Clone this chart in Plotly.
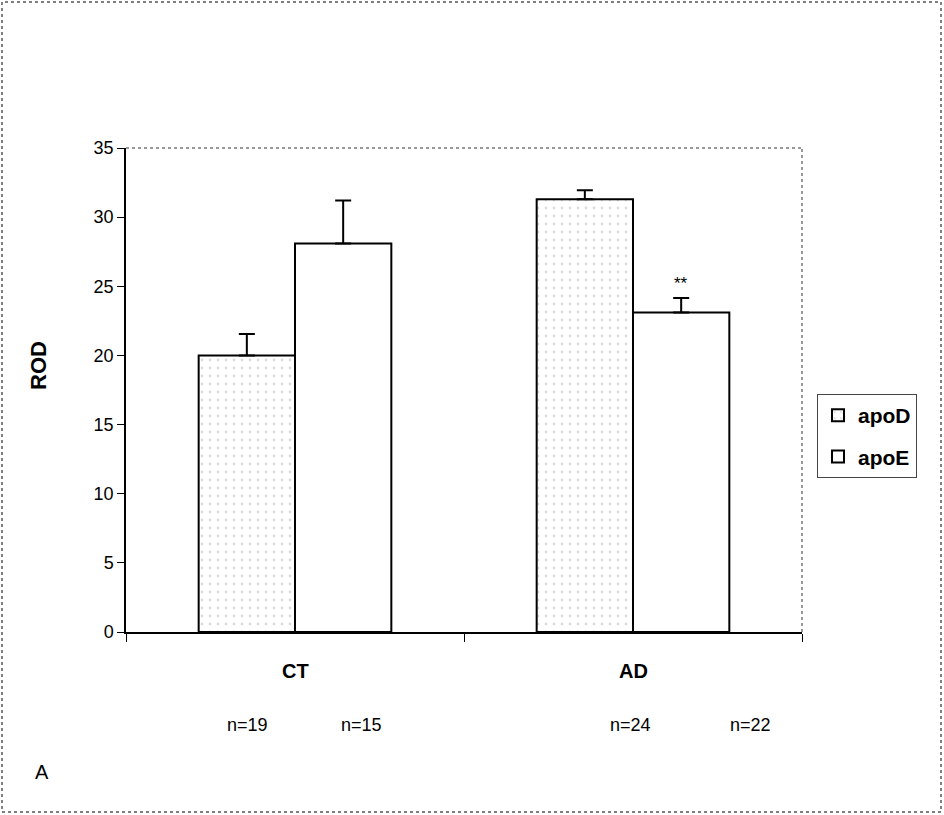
import plotly.graph_objects as go

categories = ["CT", "AD"]
apoD_values = [20.0, 31.3]
apoD_errors = [1.55, 0.65]
apoE_values = [28.1, 23.1]
apoE_errors = [3.1, 1.05]
n_labels = ["n=19", "n=15", "n=24", "n=22"]
y_ticks = [0, 5, 10, 15, 20, 25, 30, 35]

FONT = "Liberation Sans, Arial, sans-serif"
L, R, T, B = 126, 142, 148, 183
W, H = 944, 815
PW, PH = W - L - R, H - T - B

def px(x):
    return (x - L) / PW

def py(y):
    return (H - B - y) / PH

fig = go.Figure()
fig.add_trace(go.Bar(
    name="apoD", x=categories, y=apoD_values, legendgroup="d",
    marker=dict(color="white", line=dict(color="black", width=2),
                pattern=dict(shape=".", fgcolor="#b8b8b8", bgcolor="white", size=8, solidity=0.1)),
    error_y=dict(type="data", symmetric=False, array=apoD_errors, arrayminus=[0, 0],
                 color="black", thickness=2, width=8),
))
fig.add_trace(go.Bar(
    name="apoE", x=categories, y=apoE_values, legendgroup="e",
    marker=dict(color="white", line=dict(color="black", width=2)),
    error_y=dict(type="data", symmetric=False, array=apoE_errors, arrayminus=[0, 0],
                 color="black", thickness=2, width=8),
))

def label(x, y, text, size, **kw):
    d = dict(x=px(x), y=py(y), xref="paper", yref="paper", text=text, showarrow=False,
             xanchor="center", yanchor="middle", font=dict(family=FONT, size=size, color="black"))
    d.update(kw)
    return d

annotations = [
    dict(x="AD", y=apoE_values[1] + apoE_errors[1], xref="x", yref="y", xshift=48, yshift=3,
         xanchor="center", yanchor="bottom", text="**", showarrow=False,
         font=dict(family=FONT, size=17, color="black")),
    label(295, 671, "<b>CT</b>", 20),
    label(633, 671, "<b>AD</b>", 20),
    label(42, 772, "A", 20),
    label(38, 366, "<b>ROD</b>", 22, textangle=-90),
]
for lbl, xc in zip(n_labels, [247, 361, 630, 750]):
    annotations.append(label(xc, 725, lbl, 18))

shapes = [
    dict(type="rect", xref="paper", yref="paper", x0=px(2), x1=px(941), y0=py(812), y1=py(2),
         line=dict(color="#555555", width=1.5, dash="dot"), layer="below"),
    dict(type="line", xref="paper", yref="paper", x0=0, x1=1, y0=1, y1=1,
         line=dict(color="#777777", width=1.5, dash="dot")),
    dict(type="line", xref="paper", yref="paper", x0=1, x1=1, y0=0, y1=1,
         line=dict(color="#777777", width=1.5, dash="dot")),
]

fig.update_layout(
    width=W, height=H,
    margin=dict(l=L, r=R, t=T, b=B, pad=0),
    paper_bgcolor="white", plot_bgcolor="white",
    barmode="group", bargap=0.43, bargroupgap=0,
    font=dict(family=FONT, size=18, color="black"),
    showlegend=True,
    legend=dict(x=px(817), y=py(436), xanchor="left", yanchor="middle",
                bordercolor="#444444", borderwidth=1, bgcolor="white",
                font=dict(family=FONT, size=21, color="black", weight="bold"),
                itemsizing="constant", tracegroupgap=11, itemwidth=30),
    annotations=annotations,
    shapes=shapes,
)
fig.update_xaxes(showticklabels=False, ticks="outside", tickson="boundaries", ticklen=8,
                 tickcolor="black", showline=True, linecolor="black", linewidth=1.5,
                 showgrid=False, zeroline=False)
fig.update_yaxes(range=[0, 35], tickvals=y_ticks, ticks="outside", ticklen=7, tickcolor="black",
                 showline=True, linecolor="black", linewidth=1.5, showgrid=False, zeroline=False,
                 tickfont=dict(family=FONT, size=18, color="black"))

fig.write_html("out.html", config={"displayModeBar": False},
               post_script="document.body.style.margin='0';document.body.style.overflow='hidden';")
